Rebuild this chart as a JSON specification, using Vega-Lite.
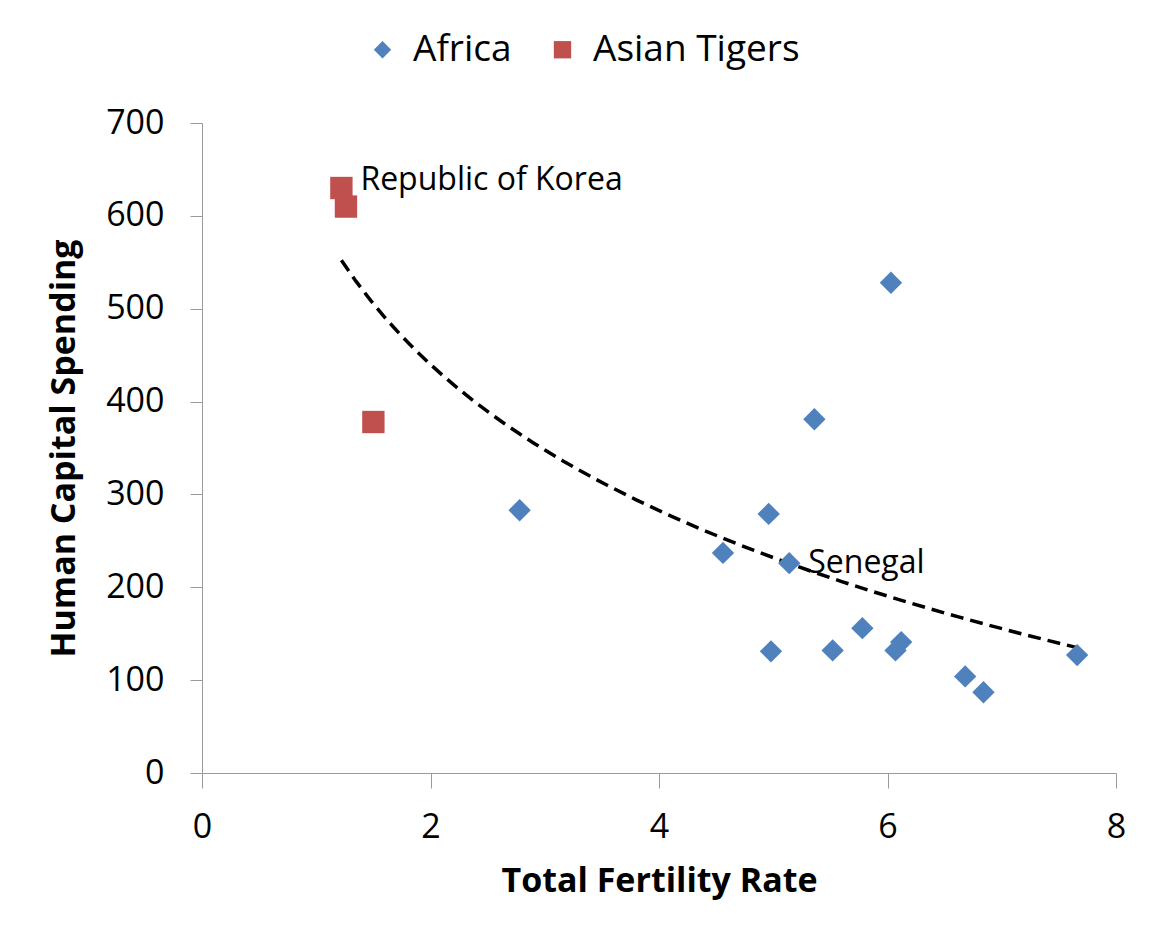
{
  "$schema": "https://vega.github.io/schema/vega-lite/v6.json",
  "width": 914,
  "height": 650,
  "autosize": {"type": "none"},
  "padding": {"left": 202, "top": 123, "right": 41, "bottom": 175},
  "background": "white",
  "config": {
    "view": {"stroke": null},
    "font": "Open Sans",
    "axis": {
      "grid": false,
      "labelFlush": false,
      "domainColor": "#9a9a9a",
      "tickColor": "#9a9a9a",
      "labelColor": "#000000",
      "titleColor": "#000000",
      "labelFont": "Open Sans",
      "titleFont": "Open Sans",
      "labelFontSize": 34,
      "titleFontSize": 34,
      "titleFontWeight": "bold"
    }
  },
  "data": {
    "values": [
      {"tfr": 1.22, "spending": 630, "region": "Asian Tigers", "label": "Republic of Korea"},
      {"tfr": 1.26, "spending": 610, "region": "Asian Tigers", "label": ""},
      {"tfr": 1.50, "spending": 378, "region": "Asian Tigers", "label": ""},
      {"tfr": 2.78, "spending": 283, "region": "Africa", "label": ""},
      {"tfr": 4.56, "spending": 237, "region": "Africa", "label": ""},
      {"tfr": 4.96, "spending": 279, "region": "Africa", "label": ""},
      {"tfr": 4.98, "spending": 131, "region": "Africa", "label": ""},
      {"tfr": 5.14, "spending": 226, "region": "Africa", "label": "Senegal"},
      {"tfr": 5.36, "spending": 381, "region": "Africa", "label": ""},
      {"tfr": 5.52, "spending": 132, "region": "Africa", "label": ""},
      {"tfr": 5.78, "spending": 156, "region": "Africa", "label": ""},
      {"tfr": 6.03, "spending": 528, "region": "Africa", "label": ""},
      {"tfr": 6.07, "spending": 132, "region": "Africa", "label": ""},
      {"tfr": 6.12, "spending": 141, "region": "Africa", "label": ""},
      {"tfr": 6.68, "spending": 104, "region": "Africa", "label": ""},
      {"tfr": 6.84, "spending": 87, "region": "Africa", "label": ""},
      {"tfr": 7.66, "spending": 127, "region": "Africa", "label": ""}
    ]
  },
  "layer": [
    {
      "transform": [{"regression": "spending", "on": "tfr", "method": "log"}],
      "mark": {"type": "line", "color": "#000000", "strokeWidth": 3.5, "strokeDash": [13, 7]},
      "encoding": {
        "x": {"field": "tfr", "type": "quantitative"},
        "y": {"field": "spending", "type": "quantitative"}
      }
    },
    {
      "mark": {"type": "point", "filled": true, "opacity": 1, "size": 500},
      "encoding": {
        "x": {
          "field": "tfr",
          "type": "quantitative",
          "title": "Total Fertility Rate",
          "scale": {"domain": [0, 8], "nice": false},
          "axis": {"values": [0, 2, 4, 6, 8], "format": "d", "tickSize": 15, "labelPadding": 22, "titlePadding": 20}
        },
        "y": {
          "field": "spending",
          "type": "quantitative",
          "title": "Human Capital Spending",
          "scale": {"domain": [0, 700], "nice": false},
          "axis": {"values": [0, 100, 200, 300, 400, 500, 600, 700], "format": "d", "tickSize": 12, "labelPadding": 26, "titlePadding": 24}
        },
        "color": {
          "field": "region",
          "type": "nominal",
          "scale": {"domain": ["Africa", "Asian Tigers"], "range": ["#4F81BD", "#C0504D"]},
          "legend": {
            "title": null,
            "orient": "none",
            "direction": "horizontal",
            "legendX": 162,
            "legendY": -92,
            "labelFontSize": 37,
            "labelFont": "Open Sans",
            "labelColor": "#000000",
            "labelLimit": 400,
            "symbolSize": 300,
            "labelOffset": 12,
            "columnPadding": 32
          }
        },
        "shape": {
          "field": "region",
          "type": "nominal",
          "scale": {"domain": ["Africa", "Asian Tigers"], "range": ["diamond", "square"]},
          "legend": null
        }
      }
    },
    {
      "transform": [{"filter": "datum.label == 'Republic of Korea'"}],
      "mark": {"type": "text", "align": "left", "baseline": "middle", "dx": 19, "dy": -8, "fontSize": 32, "color": "#000000", "font": "Open Sans"},
      "encoding": {
        "x": {"field": "tfr", "type": "quantitative"},
        "y": {"field": "spending", "type": "quantitative"},
        "text": {"field": "label"}
      }
    },
    {
      "transform": [{"filter": "datum.label == 'Senegal'"}],
      "mark": {"type": "text", "align": "left", "baseline": "middle", "dx": 19, "fontSize": 32, "color": "#000000", "font": "Open Sans"},
      "encoding": {
        "x": {"field": "tfr", "type": "quantitative"},
        "y": {"field": "spending", "type": "quantitative"},
        "text": {"field": "label"}
      }
    }
  ]
}
